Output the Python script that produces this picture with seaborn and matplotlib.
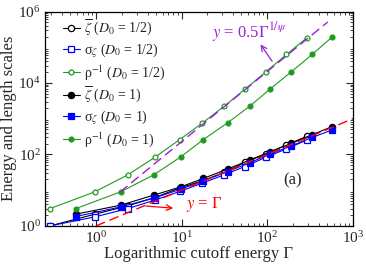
import matplotlib
matplotlib.use('Agg')
import matplotlib.pyplot as plt
import matplotlib.ticker as ticker
import seaborn as sns

# cutoff energies for each disorder strength
gamma_half = [0.29, 0.97, 2.36, 4.9, 9.5, 17.5, 31.5, 55, 96, 168, 292]
gamma_one = [0.58, 1.94, 4.75, 9.8, 17.9, 34.4, 62.6, 109, 192, 337, 576]

# D0 = 1/2
zeta_half = [1.0, 2.13, 3.65, 6.3, 11.5, 18.4, 31.4, 60, 103, 185, 323]
sigma_half = [1.0, 1.79, 3.06, 5.3, 9.2, 15.8, 27, 46, 83, 143, 255]
rho_half = [3.05, 9.0, 27, 84, 260, 760, 2250, 6700, 20300, 63000, 186000]

# D0 = 1
zeta_one = [2.13, 3.8, 7.3, 12.4, 21.3, 39, 70, 120, 205, 360, 604]
sigma_one = [1.83, 3.4, 6.0, 10.7, 18.3, 33, 59, 102, 175, 300, 490]
rho_one = [3.05, 9.0, 27, 86, 260, 767, 2240, 6900, 20700, 63700, 195000]

# reference lines (end points)
line_gamma_x = [1.0, 1500]
line_gamma_y = [1.0, 1500]
line_psi_x = [1.9, 510]
line_psi_y = [8.8, 5.1e5]

sns.set_style('ticks')
plt.rcParams['font.family'] = ['Liberation Serif', 'DejaVu Serif']
plt.rcParams['mathtext.fontset'] = 'stix'

fig = plt.figure(figsize=(3.66, 2.68), dpi=100)
ax = fig.add_axes([0.123, 0.157, 0.841, 0.800])

green = '#1f9a1f'
purple = '#9b1fd6'

series = [
    (gamma_half, zeta_half, 'black', 'o', 'white', r'$\overline{\zeta}$ ($D_0$ = 1/2)', 4.5),
    (gamma_half, sigma_half, 'blue', 's', 'white', r'σ$_{\zeta}$ ($D_0$ = 1/2)', 4.0),
    (gamma_half, rho_half, green, 'o', 'white', r'ρ$^{-1}$ ($D_0$ = 1/2)', 3.5),
    (gamma_one, zeta_one, 'black', 'o', 'black', r'$\overline{\zeta}$ ($D_0$ = 1)', 4.5),
    (gamma_one, sigma_one, 'blue', 's', 'blue', r'σ$_{\zeta}$ ($D_0$ = 1)', 4.0),
    (gamma_one, rho_one, green, 'o', green, r'ρ$^{-1}$ ($D_0$ = 1)', 3.5),
]

for xs, ys, col, mk, fc, lab, ms in series:
    sns.lineplot(x=xs, y=ys, ax=ax, color=col, marker=mk, markersize=ms,
                 markerfacecolor=fc, markeredgecolor=col, markeredgewidth=0.9,
                 linewidth=0.8, label=lab, sort=False)

sns.lineplot(x=line_gamma_x, y=line_gamma_y, ax=ax, color='red',
             linewidth=1.0, legend=False)
ax.lines[-1].set_linestyle((0, (7, 3.5)))
sns.lineplot(x=line_psi_x, y=line_psi_y, ax=ax, color=purple,
             linewidth=1.0, legend=False)
ax.lines[-1].set_linestyle((0, (7, 3.5)))

ax.set_xscale('log')
ax.set_yscale('log')
ax.set_xlim(0.254, 1000)
ax.set_ylim(1, 1e6)
ax.yaxis.set_major_locator(ticker.FixedLocator([1, 1e2, 1e4, 1e6]))
ax.yaxis.set_minor_locator(ticker.LogLocator(base=10, subs=range(2, 10), numticks=20))
ax.yaxis.set_minor_formatter(ticker.NullFormatter())
ax.xaxis.set_minor_formatter(ticker.NullFormatter())

ax.tick_params(which='both', direction='in', top=True, right=True, labelsize=11, pad=3)
ax.tick_params(which='major', length=5, width=0.8)
ax.tick_params(which='minor', length=2.5, width=0.6)
for sp in ax.spines.values():
    sp.set_linewidth(0.9)
    sp.set_color('black')

ax.set_xlabel('Logarithmic cutoff energy Γ', fontsize=12, labelpad=0)
ax.set_ylabel('Energy and length scales', fontsize=12, labelpad=1)

ax.text(62, 2.6e5, r'$y$ = 0.5Γ$^{1/\psi}$', color=purple, fontsize=12,
        ha='center', va='center')
ax.annotate('', xy=(80, 1.4e5), xytext=(119, 3.5e4),
            arrowprops=dict(arrowstyle='->', color=purple, lw=0.9))

ax.text(18.5, 4.0, r'$y$ = Γ', color='red', fontsize=12, ha='center', va='center')
ax.annotate('', xy=(8.6, 3.1), xytext=(3.56, 3.65),
            arrowprops=dict(arrowstyle='->', color='red', lw=0.9))

ax.text(200, 18.4, '(a)', fontsize=12, ha='center', va='center')

ax.legend(loc='upper left', frameon=False, fontsize=10, handlelength=1.2,
          handletextpad=0.3, labelspacing=0.22, borderaxespad=0.0,
          bbox_to_anchor=(0.04, 0.995))

fig.savefig('out.png', dpi=100)
